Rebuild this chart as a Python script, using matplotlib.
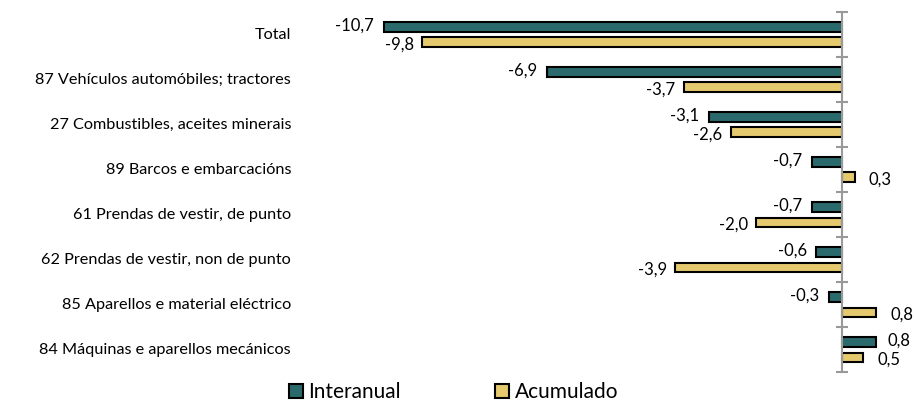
import numpy as np
import matplotlib.pyplot as plt

categories = [
    "Total",
    "87 Vehículos automóbiles; tractores",
    "27 Combustibles, aceites minerais",
    "89 Barcos e embarcacións",
    "61 Prendas de vestir, de punto",
    "62 Prendas de vestir, non de punto",
    "85 Aparellos e material eléctrico",
    "84 Máquinas e aparellos mecánicos",
]
interanual = [-10.7, -6.9, -3.1, -0.7, -0.7, -0.6, -0.3, 0.8]
acumulado = [-9.8, -3.7, -2.6, 0.3, -2.0, -3.9, 0.8, 0.5]

teal = "#2B6A6C"
yellow = "#E5C96E"

plt.rcParams["font.family"] = ["Lato", "DejaVu Sans"]

fig = plt.figure(figsize=(9.14, 4.01), dpi=100)
ax = fig.add_axes([0.328, 0.072, 0.635, 0.898])

y = np.arange(len(categories))
off = 0.17
h = 0.21

b1 = ax.barh(y - off, interanual, height=h, color=teal, edgecolor="black",
             linewidth=1.5, label="Interanual")
b2 = ax.barh(y + off, acumulado, height=h, color=yellow, edgecolor="black",
             linewidth=1.5, label="Acumulado")


def fmt(v):
    return f"{v:.1f}".replace(".", ",")


for yy, v in zip(y - off, interanual):
    ax.annotate(fmt(v), (v, yy), xytext=(-7 if v < 0 else 8, 1),
                textcoords="offset points", ha="right" if v < 0 else "left",
                va="center", fontsize=12)
for yy, v in zip(y + off, acumulado):
    ax.annotate(fmt(v), (v, yy), xytext=(-6 if v < 0 else 10, -2),
                textcoords="offset points", ha="right" if v < 0 else "left",
                va="center", fontsize=12)

for yy, name in zip(y, categories):
    ax.text(-0.015, yy, name, transform=ax.get_yaxis_transform(),
            ha="right", va="center", fontsize=11.7)

ax.set_xlim(-12.66, 0.89)
ax.set_ylim(len(categories) - 0.5, -0.5)

for s in ["top", "right", "bottom"]:
    ax.spines[s].set_visible(False)
ax.spines["left"].set_position(("data", 0))
ax.spines["left"].set_color("#999999")
ax.spines["left"].set_linewidth(1.5)
ax.set_xticks([])
ax.set_yticks([])
ax.set_yticks(np.arange(len(categories) + 1) - 0.5, minor=True)
ax.tick_params(axis="y", which="minor", direction="inout", length=9,
               width=1.5, color="#999999", labelleft=False)

fig.legend(handles=[b1, b2], loc="lower center", ncol=2,
           bbox_to_anchor=(0.496, -0.05), frameon=False, fontsize=15,
           handlelength=0.7, handleheight=0.7, handletextpad=0.25,
           columnspacing=4.5)

fig.savefig("out.png", dpi=100)
